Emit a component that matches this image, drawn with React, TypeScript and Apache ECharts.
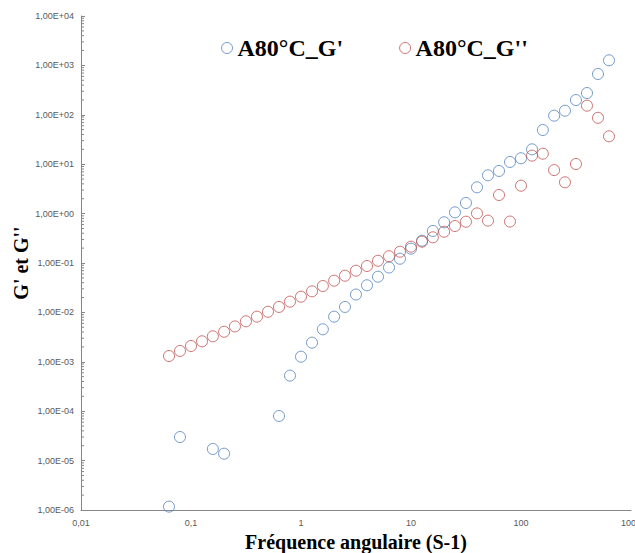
import React, { useEffect, useRef } from "react";
import * as echarts from "echarts";

// Angular frequency (s-1)
const freq = [
  0.0631, 0.0794, 0.1, 0.126, 0.158, 0.2, 0.251, 0.316, 0.398, 0.501, 0.631,
  0.794, 1, 1.26, 1.58, 2, 2.51, 3.16, 3.98, 5.01, 6.31, 7.94, 10, 12.6, 15.8,
  20, 25.1, 31.6, 39.8, 50.1, 63.1, 79.4, 100, 126, 158, 200, 251, 316, 398,
  501, 631,
];

// G' (storage modulus); null = not plotted
const gPrime: (number | null)[] = [
  1.17e-6, 3.0e-5, null, null, 1.72e-5, 1.38e-5, null, null, null, null, 8.0e-5,
  5.25e-4, 1.27e-3, 2.44e-3, 4.55e-3, 8.2e-3, 0.0129, 0.023, 0.0354, 0.0528,
  0.081, 0.122, 0.195, 0.283, 0.445, 0.667, 1.06, 1.64, 3.4, 5.96, 7.3, 11.1,
  13.2, 20.0, 49.2, 96, 121, 199, 276, 670, 1268,
];

// G'' (loss modulus)
const gDouble: number[] = [
  1.31e-3, 1.66e-3, 2.09e-3, 2.6e-3, 3.28e-3, 4.06e-3, 5.2e-3, 6.6e-3, 8.2e-3,
  1.03e-2, 1.29e-2, 1.65e-2, 2.08e-2, 2.67e-2, 3.42e-2, 4.39e-2, 5.53e-2,
  6.98e-2, 8.69e-2, 0.111, 0.137, 0.169, 0.214, 0.27, 0.331, 0.43, 0.56, 0.685,
  1.01, 0.72, 2.38, 0.69, 3.67, 14.9, 16.3, 7.6, 4.3, 10.1, 153, 87, 36.7,
];

const seriesNames = ["A80°C_G'", "A80°C_G''"];
const xTitle = "Fréquence angulaire (S-1)";
const yTitle = "G' et G''";

const X_MIN = 0.01;
const X_MAX = 1000;
const Y_MIN = 1e-6;
const Y_MAX = 1e4;

const BLUE = "#4F81BD";
const RED = "#C0504D";
const AXIS = "#868686";
const LABEL = "#595959";
const SERIF = "'Liberation Serif', 'Times New Roman', serif";

function fmtY(v: number): string {
  const e = Math.round(Math.log10(v));
  const a = Math.abs(e);
  return "1,00E" + (e >= 0 ? "+" : "-") + (a < 10 ? "0" : "") + a;
}

function fmtX(v: number): string {
  const e = Math.round(Math.log10(v));
  if (e < 0) return "0," + "0".repeat(-e - 1) + "1";
  return "1" + "0".repeat(e);
}

export default function App() {
  const ref = useRef<HTMLDivElement>(null);

  useEffect(() => {
    if (!ref.current) return;
    const chart = echarts.init(ref.current, null, { renderer: "svg" });

    const gpData = freq
      .map((f, i) => [f, gPrime[i]])
      .filter((d) => d[1] != null);
    const gdData = freq.map((f, i) => [f, gDouble[i]]);

    // minor tick positions on the log y axis (2..9 x 10^n)
    const minorTicks: number[][] = [];
    for (let e = -6; e < 4; e++) {
      for (let m = 2; m <= 9; m++) {
        minorTicks.push([X_MIN, m * Math.pow(10, e)]);
      }
    }

    chart.setOption({
      animation: false,
      backgroundColor: "#ffffff",
      grid: {
        left: 81,
        right: 4,
        top: 16,
        bottom: 43,
        containLabel: false,
        outerBoundsMode: "none",
      },
      legend: {
        data: seriesNames,
        left: 216,
        top: 31,
        itemGap: 56,
        itemWidth: 11,
        itemHeight: 11,
        icon: "circle",
        itemStyle: { borderWidth: 1 },
        textStyle: {
          fontFamily: SERIF,
          fontSize: 24,
          fontWeight: "bold",
          color: "#000",
        },
      },
      xAxis: {
        type: "log",
        logBase: 10,
        min: X_MIN,
        max: X_MAX,
        interval: 1,
        splitNumber: 5,
        name: xTitle,
        nameLocation: "middle",
        nameGap: 22,
        nameMoveOverlap: false,
        nameTextStyle: {
          fontFamily: SERIF,
          fontSize: 20,
          fontWeight: "bold",
          color: "#000",
        },
        axisLine: { show: true, lineStyle: { color: AXIS, width: 1 } },
        axisTick: { show: false },
        splitLine: { show: false },
        axisLabel: {
          color: LABEL,
          fontSize: 9,
          fontFamily: "'Liberation Sans', Arial, sans-serif",
          margin: 8,
          formatter: fmtX,
          showMaxLabel: true,
          showMinLabel: true,
          hideOverlap: false,
        },
      },
      yAxis: {
        type: "log",
        logBase: 10,
        min: Y_MIN,
        max: Y_MAX,
        interval: 1,
        splitNumber: 10,
        name: yTitle,
        nameLocation: "middle",
        nameGap: 50,
        nameMoveOverlap: false,
        nameTextStyle: {
          fontFamily: SERIF,
          fontSize: 20,
          fontWeight: "bold",
          color: "#000",
        },
        axisLine: { show: true, lineStyle: { color: AXIS, width: 1 } },
        axisTick: {
          show: true,
          inside: true,
          length: 4,
          lineStyle: { color: AXIS },
        },
        splitLine: { show: false },
        axisLabel: {
          color: LABEL,
          fontSize: 9,
          fontFamily: "'Liberation Sans', Arial, sans-serif",
          margin: 7,
          formatter: fmtY,
          interval: 0,
          hideOverlap: false,
        },
      },
      series: [
        {
          name: seriesNames[0],
          type: "scatter",
          data: gpData,
          symbol: "circle",
          symbolSize: 11,
          itemStyle: {
            color: "rgba(255,255,255,0)",
            borderColor: BLUE,
            borderWidth: 1,
          },
        },
        {
          name: seriesNames[1],
          type: "scatter",
          data: gdData,
          symbol: "circle",
          symbolSize: 11,
          itemStyle: {
            color: "rgba(255,255,255,0)",
            borderColor: RED,
            borderWidth: 1,
          },
        },
        {
          name: "minorTicks",
          type: "custom",
          silent: true,
          data: minorTicks,
          renderItem: (params: any, api: any) => {
            const p = api.coord([api.value(0), api.value(1)]);
            return {
              type: "line",
              shape: { x1: p[0], y1: p[1], x2: p[0] + 3, y2: p[1] },
              style: { stroke: AXIS, lineWidth: 1 },
            };
          },
        },
      ],
    });

    return () => chart.dispose();
  }, []);

  return (
    <div
      ref={ref}
      style={{ position: "absolute", left: 0, top: 0, width: 635, height: 553 }}
    />
  );
}
